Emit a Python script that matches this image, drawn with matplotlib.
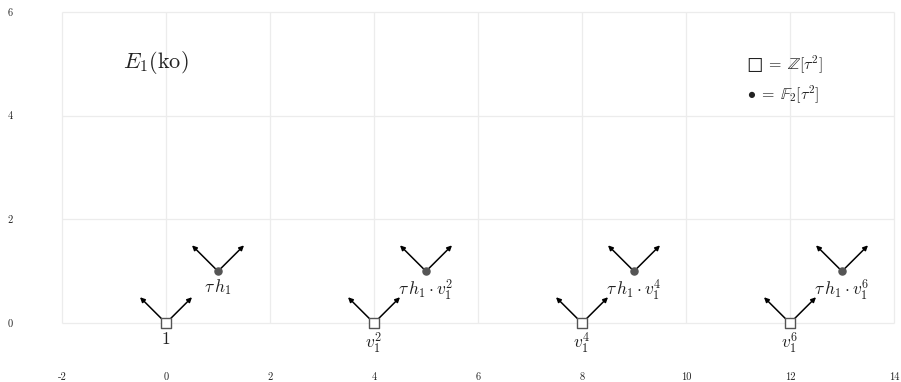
import matplotlib
matplotlib.use("Agg")
import matplotlib.pyplot as plt

plt.rcParams["font.family"] = "serif"
plt.rcParams["font.serif"] = ["cmr10"]
plt.rcParams["mathtext.fontset"] = "cm"
plt.rcParams["axes.unicode_minus"] = False
plt.rcParams["axes.formatter.use_mathtext"] = True

# chart data
xticks = [-2, 0, 2, 4, 6, 8, 10, 12, 14]
yticks = [0, 2, 4, 6]
square_x = [0, 4, 8, 12]
square_y = [0, 0, 0, 0]
square_labels = ["$1$", "$v_1^2$", "$v_1^4$", "$v_1^6$"]
dot_x = [1, 5, 9, 13]
dot_y = [1, 1, 1, 1]
dot_labels = ["$\\tau\\, h_1$", "$\\tau\\, h_1 \\cdot v_1^2$",
              "$\\tau\\, h_1 \\cdot v_1^4$", "$\\tau\\, h_1 \\cdot v_1^6$"]
arrow_dirs = [(-0.5, 0.5), (0.5, 0.5)]
title = "$E_1(\\mathrm{ko})$"
key_lines = ["$\u25a1\\;=\\;\\mathbb{Z}[\\tau^2]$", "$\\bullet\\;=\\;\\mathbb{F}_2[\\tau^2]$"]

fig = plt.figure(figsize=(9.01, 3.82), dpi=100)
ax = fig.add_axes([0, 0, 1, 1])
ax.set_xlim(-2 - 62 / 52, -2 + 839 / 52)
ax.set_ylim(-59 / 52, 6 + 12 / 52)
for s in ax.spines.values():
    s.set_visible(False)

# grid only over the chart range
ax.vlines(xticks, yticks[0], yticks[-1], color="#ececec", lw=0.9, zorder=0)
ax.hlines(yticks, xticks[0], xticks[-1], color="#ececec", lw=0.9, zorder=0)

ax.set_xticks(xticks)
ax.set_yticks(yticks)
ax.set_xticklabels([str(v) for v in xticks])
ax.set_yticklabels([str(v) for v in yticks])
ax.tick_params(axis="x", length=0, pad=-3.6, labelsize=7.5, colors="#222222")
ax.tick_params(axis="y", length=0, pad=-7.2, labelsize=7.5, colors="#222222")
for lbl in ax.get_xticklabels():
    lbl.set_va("center")
for lbl in ax.get_yticklabels():
    lbl.set_ha("center")

# arrows
for px, py in list(zip(square_x, square_y)) + list(zip(dot_x, dot_y)):
    for dx, dy in arrow_dirs:
        ax.annotate("", xy=(px + dx, py + dy), xytext=(px, py),
                    arrowprops=dict(arrowstyle="-|>", color="black", lw=1.1,
                                    shrinkA=0, shrinkB=0, mutation_scale=7),
                    zorder=2)

ax.scatter(square_x, square_y, marker="s", s=62, facecolor="white",
           edgecolor="#555555", linewidth=1.0, zorder=3)
ax.scatter(dot_x, dot_y, marker="o", s=26, color="#555555", zorder=3)

for x, y, t in zip(square_x, square_y, square_labels):
    ax.annotate(t, (x, y), xytext=(0, -5.5), textcoords="offset points",
                ha="center", va="top", fontsize=12.5, color="#222222")
for x, y, t in zip(dot_x, dot_y, dot_labels):
    ax.annotate(t, (x, y), xytext=(0, -4.2), textcoords="offset points",
                ha="center", va="top", fontsize=12.5, color="#222222")

ax.text(-0.83, 5.02, title, fontsize=16, ha="left", va="center", color="#222222")
ax.text(11.17, 4.98, key_lines[0], fontsize=11.5, ha="left", va="center", color="#222222")
ax.text(11.17, 4.40, key_lines[1], fontsize=11.5, ha="left", va="center", color="#222222")

fig.savefig("out.png", dpi=100)
